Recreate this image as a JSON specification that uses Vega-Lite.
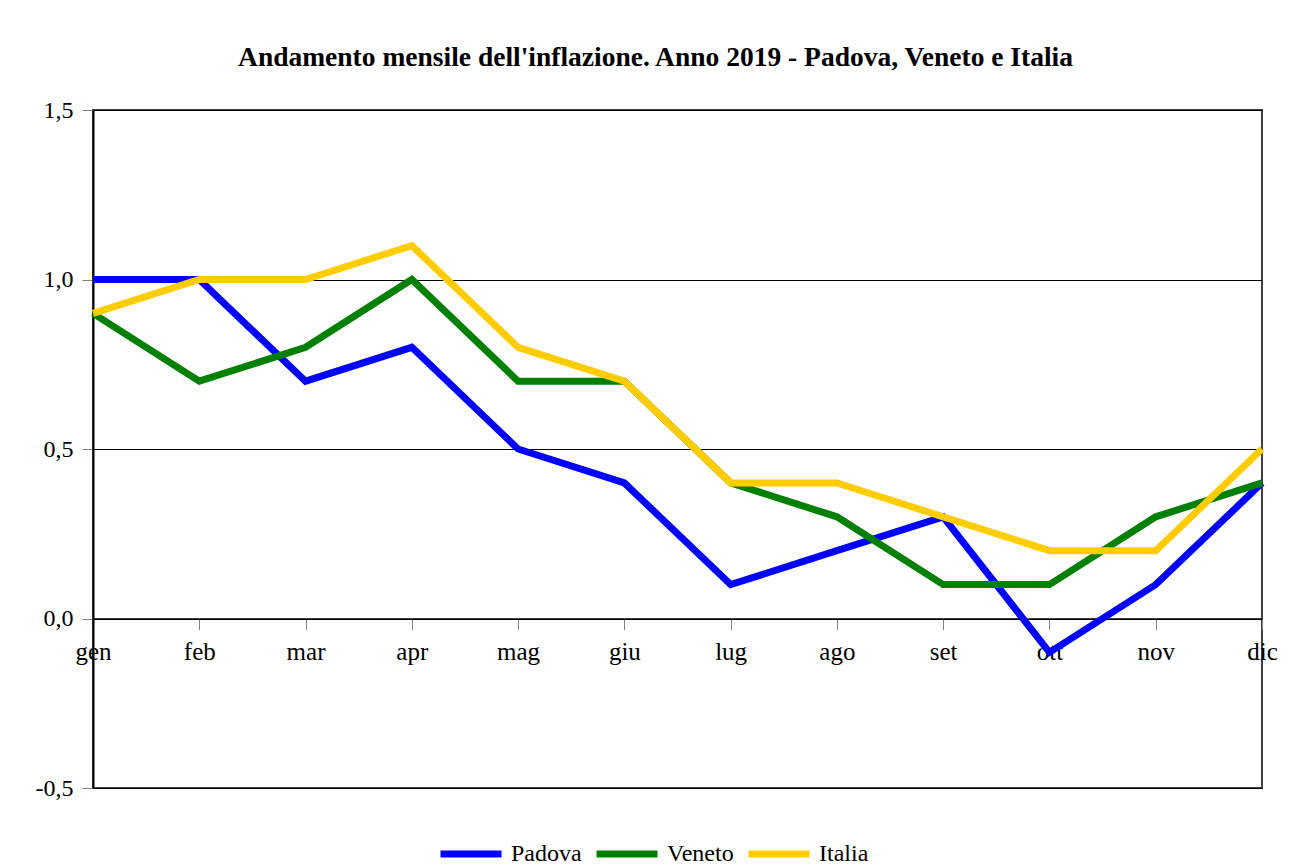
{
  "$schema": "https://vega.github.io/schema/vega-lite/v6.json",
  "width": 1169,
  "height": 678,
  "autosize": {"type": "none"},
  "padding": {"left": 93, "top": 110, "right": 32, "bottom": 79},
  "background": "white",
  "title": {
    "text": "Andamento mensile dell'inflazione. Anno 2019 - Padova, Veneto e Italia",
    "font": "Liberation Serif",
    "fontSize": 27.5,
    "fontWeight": "bold",
    "color": "black",
    "anchor": "middle",
    "dx": -22,
    "offset": 27
  },
  "data": {
    "values": [
      {"mese": "gen", "serie": "Padova", "valore": 1.0},
      {"mese": "feb", "serie": "Padova", "valore": 1.0},
      {"mese": "mar", "serie": "Padova", "valore": 0.7},
      {"mese": "apr", "serie": "Padova", "valore": 0.8},
      {"mese": "mag", "serie": "Padova", "valore": 0.5},
      {"mese": "giu", "serie": "Padova", "valore": 0.4},
      {"mese": "lug", "serie": "Padova", "valore": 0.1},
      {"mese": "ago", "serie": "Padova", "valore": 0.2},
      {"mese": "set", "serie": "Padova", "valore": 0.3},
      {"mese": "ott", "serie": "Padova", "valore": -0.1},
      {"mese": "nov", "serie": "Padova", "valore": 0.1},
      {"mese": "dic", "serie": "Padova", "valore": 0.4},
      {"mese": "gen", "serie": "Veneto", "valore": 0.9},
      {"mese": "feb", "serie": "Veneto", "valore": 0.7},
      {"mese": "mar", "serie": "Veneto", "valore": 0.8},
      {"mese": "apr", "serie": "Veneto", "valore": 1.0},
      {"mese": "mag", "serie": "Veneto", "valore": 0.7},
      {"mese": "giu", "serie": "Veneto", "valore": 0.7},
      {"mese": "lug", "serie": "Veneto", "valore": 0.4},
      {"mese": "ago", "serie": "Veneto", "valore": 0.3},
      {"mese": "set", "serie": "Veneto", "valore": 0.1},
      {"mese": "ott", "serie": "Veneto", "valore": 0.1},
      {"mese": "nov", "serie": "Veneto", "valore": 0.3},
      {"mese": "dic", "serie": "Veneto", "valore": 0.4},
      {"mese": "gen", "serie": "Italia", "valore": 0.9},
      {"mese": "feb", "serie": "Italia", "valore": 1.0},
      {"mese": "mar", "serie": "Italia", "valore": 1.0},
      {"mese": "apr", "serie": "Italia", "valore": 1.1},
      {"mese": "mag", "serie": "Italia", "valore": 0.8},
      {"mese": "giu", "serie": "Italia", "valore": 0.7},
      {"mese": "lug", "serie": "Italia", "valore": 0.4},
      {"mese": "ago", "serie": "Italia", "valore": 0.4},
      {"mese": "set", "serie": "Italia", "valore": 0.3},
      {"mese": "ott", "serie": "Italia", "valore": 0.2},
      {"mese": "nov", "serie": "Italia", "valore": 0.2},
      {"mese": "dic", "serie": "Italia", "valore": 0.5}
    ]
  },
  "mark": {"type": "line", "strokeWidth": 7, "strokeJoin": "miter", "strokeCap": "butt"},
  "encoding": {
    "x": {
      "field": "mese",
      "type": "ordinal",
      "sort": ["gen","feb","mar","apr","mag","giu","lug","ago","set","ott","nov","dic"],
      "scale": {"type": "point", "padding": 0},
      "axis": {
        "title": null,
        "orient": "bottom",
        "offset": -169.5,
        "labelAngle": 0,
        "labelFont": "Liberation Serif",
        "labelFontSize": 25,
        "labelColor": "black",
        "labelPadding": 10,
        "tickSize": 11,
        "tickColor": "#808080",
        "domainColor": "black",
        "domainWidth": 1.5,
        "grid": false
      }
    },
    "y": {
      "field": "valore",
      "type": "quantitative",
      "scale": {"domain": [-0.5, 1.5], "nice": false, "zero": false},
      "axis": {
        "title": null,
        "values": [-0.5, 0, 0.5, 1, 1.5],
        "labelExpr": "replace(replace(format(datum.value, '.1f'), '.', ','), '−', '-')",
        "labelFont": "Liberation Serif",
        "labelFontSize": 24,
        "labelColor": "black",
        "labelPadding": 9,
        "tickSize": 11,
        "tickColor": "#808080",
        "domainColor": "black",
        "domainWidth": 2,
        "grid": true,
        "gridColor": "black",
        "gridWidth": 1,
        "gridOpacity": 1
      }
    },
    "color": {
      "field": "serie",
      "type": "nominal",
      "scale": {"domain": ["Padova", "Veneto", "Italia"], "range": ["#0000FF", "#008000", "#FFCC00"]},
      "legend": {
        "title": null,
        "orient": "none",
        "direction": "horizontal",
        "legendX": 344,
        "legendY": 710,
        "symbolType": "stroke",
        "symbolSize": 3721,
        "symbolStrokeWidth": 7,
        "labelFont": "Liberation Serif",
        "labelFontSize": 24,
        "labelColor": "black",
        "labelOffset": 6,
        "columnPadding": 0
      }
    }
  },
  "config": {
    "view": {"stroke": "#404040", "strokeWidth": 2}
  }
}
